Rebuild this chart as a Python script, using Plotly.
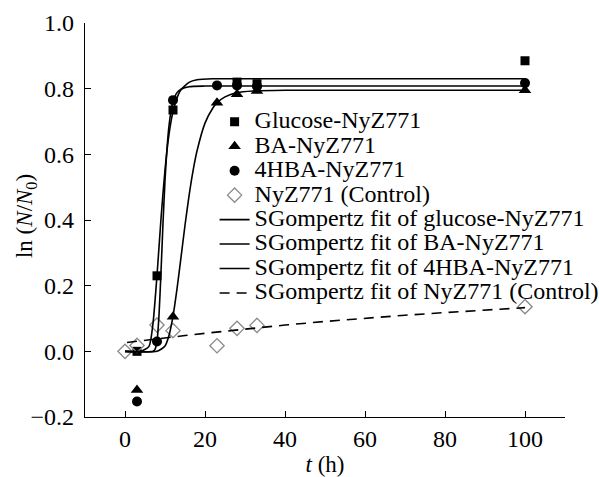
import plotly.graph_objects as go

# ---- measured data ----
t_glu = [3, 8, 12, 28, 33, 100]
y_glu = [0.0, 0.23, 0.735, 0.82, 0.815, 0.885]

t_ba = [3, 12, 23, 28, 33, 100]
y_ba = [-0.118, 0.105, 0.757, 0.783, 0.793, 0.795]

t_hba = [3, 8, 12, 23, 28, 33, 100]
y_hba = [-0.153, 0.03, 0.765, 0.81, 0.81, 0.807, 0.817]

t_ctl = [0, 3, 8, 12, 23, 28, 33, 100]
y_ctl = [0.0, 0.018, 0.08, 0.063, 0.017, 0.07, 0.079, 0.136]

# ---- fitted curves ----
tf_glu = [0, 4, 6, 7, 8, 9, 10, 11, 12, 13, 14, 16, 18, 22, 30, 100]
yf_glu = [0.0, 0.0, 0.015, 0.085, 0.231, 0.404, 0.553, 0.661, 0.730, 0.772, 0.797, 0.819, 0.827, 0.83, 0.83, 0.83]

tf_ba = [0, 8, 10, 11, 12, 13, 14, 15, 16, 17, 18, 20, 22, 23, 25, 28, 32, 40, 100]
yf_ba = [0.0, 0.0, 0.016, 0.048, 0.107, 0.190, 0.286, 0.384, 0.473, 0.549, 0.610, 0.695, 0.742, 0.757, 0.775, 0.788, 0.793, 0.795, 0.795]

tf_hba = [0, 7, 7.5, 8, 8.5, 9, 9.5, 10, 10.5, 11, 11.5, 12, 13, 14, 16, 20, 100]
yf_hba = [0.0, 0.0, 0.006, 0.03, 0.110, 0.242, 0.390, 0.520, 0.618, 0.687, 0.731, 0.76, 0.788, 0.798, 0.806, 0.808, 0.808]

tf_ctl = [0.5, 5, 10, 15, 20, 30, 40, 50, 60, 70, 80, 90, 100]
yf_ctl = [0.027, 0.034, 0.041, 0.048, 0.055, 0.068, 0.080, 0.091, 0.101, 0.110, 0.118, 0.126, 0.133]

names = ["Glucose-NyZ771", "BA-NyZ771", "4HBA-NyZ771", "NyZ771 (Control)",
         "SGompertz fit of glucose-NyZ771", "SGompertz fit of BA-NyZ771",
         "SGompertz fit of 4HBA-NyZ771", "SGompertz fit of NyZ771 (Control)"]

FONT = "Times New Roman, Liberation Serif, DejaVu Serif, serif"
def lab(s):
    return '<span style="font-size:24px">' + s + '</span>'

fig = go.Figure()
fig.add_trace(go.Scatter(x=t_glu, y=y_glu, mode="markers", name=lab(names[0]),
                         marker=dict(symbol="square", size=9, color="black")))
fig.add_trace(go.Scatter(x=t_ba, y=y_ba, mode="markers", name=lab(names[1]),
                         marker=dict(symbol="triangle-up", size=11, color="black")))
fig.add_trace(go.Scatter(x=t_hba, y=y_hba, mode="markers", name=lab(names[2]),
                         marker=dict(symbol="circle", size=10, color="black")))
fig.add_trace(go.Scatter(x=t_ctl, y=y_ctl, mode="markers", name=lab(names[3]),
                         marker=dict(symbol="diamond-open", size=11, color="#8a8a8a",
                                     line=dict(width=1.3, color="#8a8a8a"))))
fig.add_trace(go.Scatter(x=tf_glu, y=yf_glu, mode="lines", name=lab(names[4]),
                         line=dict(color="black", width=1.6, shape="spline", smoothing=0.6)))
fig.add_trace(go.Scatter(x=tf_ba, y=yf_ba, mode="lines", name=lab(names[5]),
                         line=dict(color="black", width=1.6, shape="spline", smoothing=0.6)))
fig.add_trace(go.Scatter(x=tf_hba, y=yf_hba, mode="lines", name=lab(names[6]),
                         line=dict(color="black", width=1.6, shape="spline", smoothing=0.6)))
fig.add_trace(go.Scatter(x=tf_ctl, y=yf_ctl, mode="lines", name=lab(names[7]),
                         line=dict(color="black", width=1.6, dash="10px,7px")))

axis_common = dict(showgrid=False, zeroline=False, showline=True, linecolor="black",
                   linewidth=1.3, ticks="inside", ticklen=6, tickwidth=1.3,
                   tickcolor="black", tickfont=dict(family=FONT, size=24, color="black"),
                   mirror=False, automargin=False)

fig.update_layout(
    width=599, height=477,
    margin=dict(l=85, r=34, t=23, b=60, autoexpand=False),
    paper_bgcolor="white", plot_bgcolor="white",
    font=dict(family=FONT, color="black"),
    showlegend=True,
    legend=dict(x=0.27, y=0.793, xanchor="left", yanchor="top",
                bgcolor="rgba(0,0,0,0)", borderwidth=0,
                font=dict(family=FONT, size=16.5, color="black"),
                itemwidth=30, tracegroupgap=0),
    xaxis=dict(range=[-10, 110], tickvals=[0, 20, 40, 60, 80, 100],
               title=dict(text="<i>t</i> (h)", font=dict(family=FONT, size=23), standoff=4),
               **axis_common),
    yaxis=dict(range=[-0.2, 1.0], tickvals=[-0.2, 0, 0.2, 0.4, 0.6, 0.8, 1.0],
               ticktext=["\u22120.2", "0.0", "0.2", "0.4", "0.6", "0.8", "1.0"],
               ticklabelstandoff=5,
               **axis_common),
    annotations=[dict(text="ln (<i>N</i>/<i>N</i><sub>0</sub>)", textangle=-90,
                      xref="paper", yref="paper", x=-0.123, y=0.51,
                      xanchor="center", yanchor="middle", showarrow=False,
                      font=dict(family=FONT, size=23, color="black"))],
)

fig.write_html("out.html")
